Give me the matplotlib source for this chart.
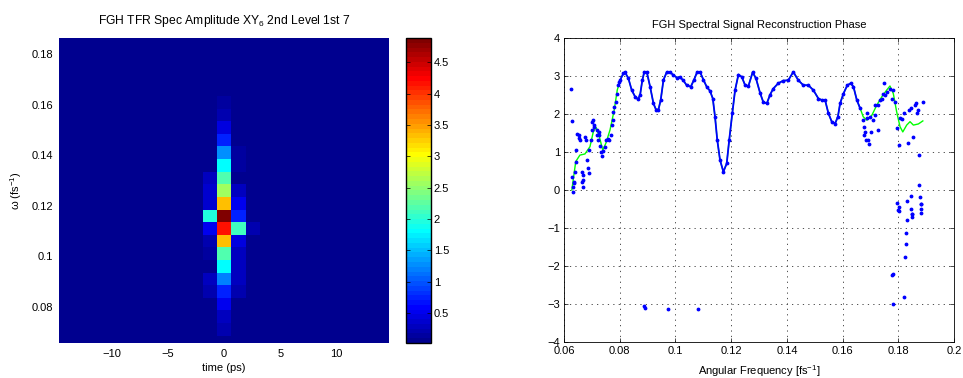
import numpy as np
import matplotlib
matplotlib.use('Agg')
import matplotlib.pyplot as plt
from matplotlib.colors import ListedColormap
from matplotlib.ticker import FormatStrFormatter

plt.rcParams['font.family'] = ['Liberation Sans', 'DejaVu Sans']
plt.rcParams['mathtext.fontset'] = 'custom'
plt.rcParams['mathtext.rm'] = 'Liberation Sans'
plt.rcParams['mathtext.it'] = 'Liberation Sans:italic'
plt.rcParams['font.size'] = 8

# ---- TFR spectrogram grid (23 time bins x 25 frequency bins) ----
t_step = 1.2765
n_t = 23
time_c = (np.arange(n_t) - n_t // 2) * t_step
omega_c = 0.066 + 0.005 * np.arange(25)
background = 0.02

# amplitude per frequency bin (bottom -> top) for the columns around t = 0
amp_t0 = [0.03, 0.2, 0.3, 0.5, 0.72, 1.22, 1.82, 2.18, 3.33, 4.17, 4.89, 3.33, 2.56,
          2.18, 1.8, 1.25, 0.77, 0.46, 0.22, 0.14, 0.03, 0.03, 0.03, 0.03, 0.03]
amp_tm1 = [0.02, 0.02, 0.02, 0.02, 0.2, 0.25, 0.06, 0.16, 0.18, 0.5, 1.95, 0.38, 0.36,
           0.3, 0.02, 0.02, 0.02, 0.02, 0.02, 0.02, 0.02, 0.02, 0.02, 0.02, 0.02]
amp_tp1 = [0.02, 0.02, 0.02, 0.04, 0.18, 0.27, 0.32, 0.28, 0.42, 2.15, 0.75, 0.55, 0.32,
           0.07, 0.15, 0.15, 0.02, 0.02, 0.02, 0.02, 0.02, 0.02, 0.02, 0.02, 0.02]
amp_tp2 = [0.02, 0.02, 0.02, 0.02, 0.02, 0.02, 0.02, 0.02, 0.02, 0.18, 0.02, 0.02, 0.02,
           0.02, 0.02, 0.02, 0.02, 0.02, 0.02, 0.02, 0.02, 0.02, 0.02, 0.02, 0.02]

amp = np.full((len(omega_c), n_t), background)
amp[:, n_t // 2 - 1] = amp_tm1
amp[:, n_t // 2] = amp_t0
amp[:, n_t // 2 + 1] = amp_tp1
amp[:, n_t // 2 + 2] = amp_tp2

# ---- reconstructed phase ----
# fitted phase (green line)
omega_fit = [0.0628, 0.0642, 0.0657, 0.0675, 0.0693, 0.0705, 0.0715, 0.0727, 0.0739, 0.075,
             0.0765, 0.078, 0.0791, 0.0801, 0.0813, 0.0819, 0.0831, 0.0843, 0.0855, 0.0865,
             0.0873, 0.0881, 0.0888, 0.0897, 0.0909, 0.0921, 0.093, 0.0939, 0.0947, 0.0957,
             0.0969, 0.0981, 0.0992, 0.1005, 0.1016, 0.1028, 0.104, 0.1055, 0.1067, 0.1078,
             0.1088, 0.11, 0.1112, 0.1124, 0.1134, 0.1142, 0.115, 0.116, 0.1172, 0.1184,
             0.1193, 0.1204, 0.1214, 0.1226, 0.1238, 0.125, 0.1262, 0.1277, 0.1289, 0.1304,
             0.1315, 0.1328, 0.1339, 0.1351, 0.1369, 0.1387, 0.1405, 0.1423, 0.1441, 0.1459,
             0.1477, 0.1495, 0.1513, 0.1525, 0.1537, 0.1549, 0.1561, 0.1573, 0.1583, 0.1591,
             0.1603, 0.1617, 0.1629, 0.1639, 0.1651, 0.1663, 0.1674, 0.1687, 0.1705, 0.1723,
             0.1741, 0.1758, 0.177, 0.1782, 0.1794, 0.1806, 0.1816, 0.183, 0.1842, 0.1854,
             0.1872, 0.1888]
phase_fit = [0.0, 0.75, 0.92, 0.95, 1.14, 1.53, 1.65, 1.4, 1.05, 1.23,
             1.58, 2.1, 2.63, 2.89, 3.07, 3.1, 2.94, 2.63, 2.46, 2.39,
             2.5, 2.89, 3.11, 3.11, 2.72, 2.28, 2.12, 2.12, 2.37, 2.9,
             3.11, 3.1, 3.03, 2.96, 2.97, 2.89, 2.76, 2.72, 2.91, 3.11,
             3.11, 2.91, 2.72, 2.61, 2.41, 1.93, 1.32, 0.79, 0.48, 0.7,
             1.32, 2.02, 2.63, 3.04, 2.98, 2.76, 2.74, 3.1, 2.94, 2.55,
             2.32, 2.28, 2.5, 2.67, 2.81, 2.88, 2.89, 3.11, 2.89, 2.76,
             2.76, 2.63, 2.41, 2.37, 2.37, 2.02, 1.8, 1.75, 1.93, 2.28,
             2.54, 2.76, 2.81, 2.72, 2.37, 2.15, 1.93, 1.84, 1.97, 2.24,
             2.46, 2.63, 2.74, 2.54, 2.06, 1.67, 1.53, 1.71, 1.8, 1.71,
             1.74, 1.82]

# measured phase points off the dense band
omega_pts = [0.0625, 0.0627, 0.063, 0.0631, 0.0633, 0.0634, 0.0636, 0.064, 0.0644, 0.0644,
             0.0648, 0.0652, 0.0655, 0.0657, 0.0664, 0.0666, 0.0667, 0.0667, 0.0669, 0.0675,
             0.0678, 0.0684, 0.0687, 0.069, 0.0691, 0.0696, 0.07, 0.0702, 0.0705, 0.0709,
             0.0708, 0.0717, 0.0719, 0.0723, 0.0724, 0.0726, 0.0729, 0.0732, 0.0737, 0.0741,
             0.0747, 0.0751, 0.0757, 0.0763, 0.0768, 0.0772, 0.0775, 0.0777, 0.0781, 0.0786,
             0.0789, 0.0793, 0.0797,
             0.0888, 0.0889, 0.0972, 0.1082,
             0.1672, 0.1677, 0.1681, 0.1678, 0.1684, 0.1692, 0.1696, 0.1689, 0.1689, 0.1698,
             0.1701, 0.171, 0.1716, 0.1716, 0.1728, 0.1728, 0.1734, 0.174, 0.1746, 0.1749,
             0.1752, 0.1761, 0.177, 0.1776, 0.1782, 0.1788, 0.1794, 0.1804, 0.1806, 0.1812,
             0.182, 0.1836, 0.184, 0.1845, 0.1854, 0.186, 0.1864, 0.1866, 0.1872, 0.1875,
             0.189,
             0.1876, 0.1845, 0.1878, 0.1832, 0.1797, 0.1803, 0.1799, 0.1801, 0.188, 0.1882,
             0.1847, 0.1882, 0.1849, 0.185, 0.1883, 0.1849, 0.183, 0.1828, 0.1827, 0.1824,
             0.1779, 0.178, 0.1822, 0.1782]
phase_pts = [2.66, 1.82, 0.35, 0.07, -0.04, 0.22, 0.19, 0.48, 0.75, 1.05,
             1.47, 1.36, 1.45, 1.32, 0.48, 0.22, 0.39, 0.26, 0.09, 1.4,
             1.32, 0.79, 0.57, 0.46, 1.05, 1.32, 1.58, 1.8, 1.84, 1.71,
             1.65, 1.58, 1.45, 1.32, 1.53, 1.45, 1.16, 1.0, 0.89, 1.03,
             1.14, 1.32, 1.34, 1.32, 1.45, 1.71, 1.84, 2.06, 2.19, 2.32,
             2.54, 2.76, 2.85,
             -3.05, -3.11, -3.14, -3.14,
             1.84, 1.67, 1.53, 1.45, 1.32, 1.32, 1.21, 2.02, 1.89, 1.91,
             1.53, 1.84, 1.97, 2.24, 2.24, 1.58, 2.37, 2.41, 2.54, 2.81,
             2.5, 2.59, 2.65, 2.41, 2.63, 2.32, 1.64, 1.18, 1.89, 1.86,
             2.02, 1.23, 2.11, 2.15, 1.4, 2.24, 2.28, 2.03, 2.11, 0.92,
             2.32,
             0.13, -0.15, -0.18, -0.3, -0.35, -0.44, -0.53, -0.55, -0.37, -0.36,
             -0.51, -0.51, -0.63, -0.63, -0.61, -0.7, -0.79, -1.12, -1.43, -1.77,
             -2.24, -2.22, -2.82, -3.01]


def matlab_jet(m=64):
    n = int(np.ceil(m / 4))
    u = np.concatenate([np.arange(1, n + 1) / n, np.ones(n - 1), np.arange(n, 0, -1) / n])
    g = int(np.ceil(n / 2)) - (m % 4 == 1) + np.arange(1, len(u) + 1)
    r = g + n
    b = g - n
    cmap = np.zeros((m, 3))
    for ch, idx in ((0, r), (1, g), (2, b)):
        ok = (idx >= 1) & (idx <= m)
        cmap[idx[ok] - 1, ch] = u[ok]
    return ListedColormap(cmap)


fig = plt.figure(figsize=(9.63, 3.78), dpi=100)

# left: spectrogram
ax1 = fig.add_axes([0.0613, 0.0926, 0.3427, 0.8069])
t_edges = np.append(time_c - t_step / 2, time_c[-1] + t_step / 2)
w_edges = np.append(omega_c - 0.0025, omega_c[-1] + 0.0025)
mesh = ax1.pcolormesh(t_edges, w_edges, amp, cmap=matlab_jet(), vmin=amp.min(), vmax=amp.max(),
                      shading='flat')
ax1.set_xlim(-14.68, 14.68)
ax1.set_ylim(0.0656, 0.1865)
ax1.set_xticks([-10, -5, 0, 5, 10])
ax1.set_yticks([0.08, 0.1, 0.12, 0.14, 0.16, 0.18])
ax1.yaxis.set_major_formatter(FormatStrFormatter('%g'))
ax1.tick_params(length=0, pad=4, labelsize=8)
for s in ax1.spines.values():
    s.set_visible(False)
ax1.set_xlabel('time (ps)', labelpad=3)
ax1.set_ylabel(r'ω (fs$^{-1}$)', labelpad=6)
ax1.set_title(r'FGH TFR Spec Amplitude XY$_6$ 2nd Level 1st 7', fontsize=8.7, pad=10)

cax = fig.add_axes([0.4216, 0.0926, 0.026, 0.8069])
cb = fig.colorbar(mesh, cax=cax, ticks=[0.5, 1, 1.5, 2, 2.5, 3, 3.5, 4, 4.5])
cb.ax.yaxis.set_major_formatter(FormatStrFormatter('%g'))
cb.ax.tick_params(direction='in', left=True, right=True, length=3, width=0.5, pad=2, labelsize=8)
cb.outline.set_linewidth(1.0)

# right: reconstructed phase
ax2 = fig.add_axes([0.5857, 0.0952, 0.405, 0.804])
ax2.plot(omega_fit, phase_fit, color=(0, 1, 0), lw=1.0, zorder=2)
band = [(w, p) for w, p in zip(omega_fit, phase_fit) if 0.0800 <= w <= 0.1664]
ax2.plot([b[0] for b in band], [b[1] for b in band], color='b', lw=1.3, marker='.',
         markersize=3.5, zorder=3)
ax2.plot(omega_pts, phase_pts, linestyle='none', color='b', marker='.', markersize=3.5, zorder=3)
ax2.set_xlim(0.06, 0.2)
ax2.set_ylim(-4, 4)
ax2.set_xticks([0.06, 0.08, 0.1, 0.12, 0.14, 0.16, 0.18, 0.2])
ax2.set_yticks(range(-4, 5))
ax2.xaxis.set_major_formatter(FormatStrFormatter('%g'))
ax2.grid(True, color='0.2', lw=0.6, linestyle=(0, (1.5, 5)))
ax2.tick_params(direction='in', top=True, right=True, length=3, width=0.5, pad=3, labelsize=8)
for s in ax2.spines.values():
    s.set_linewidth(0.6)
ax2.set_xlabel(r'Angular Frequency [fs$^{-1}$]', labelpad=5)
ax2.set_title('FGH Spectral Signal Reconstruction Phase', fontsize=8, pad=7)

fig.savefig('out.png', dpi=100)
